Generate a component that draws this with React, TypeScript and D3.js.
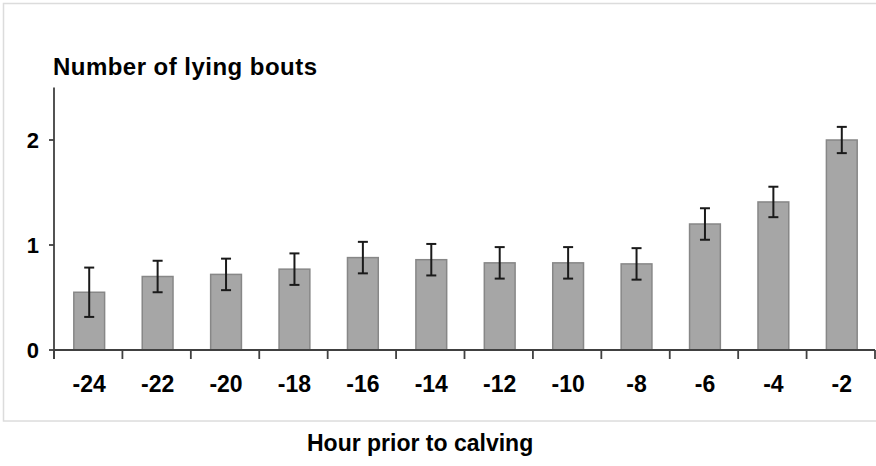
import React from 'react';
import * as d3 from 'd3';

const WIDTH = 876;
const HEIGHT = 466;

const hours = ['-24', '-22', '-20', '-18', '-16', '-14', '-12', '-10', '-8', '-6', '-4', '-2'];
const bouts = [0.55, 0.7, 0.72, 0.77, 0.88, 0.86, 0.83, 0.83, 0.82, 1.2, 1.41, 2.0];
const boutsErr = [0.235, 0.15, 0.15, 0.15, 0.15, 0.15, 0.15, 0.15, 0.15, 0.15, 0.145, 0.125];
const yTicks = [0, 1, 2];

const FONT = 'Arial, "Liberation Sans", sans-serif';

const App: React.FC = () => {
  const x = d3.scaleBand<string>().domain(hours).range([54, 875]).padding(0);
  const y = d3.scaleLinear().domain([0, 2.5]).range([350, 87.5]);
  const bw = x.bandwidth() * 0.45;
  const axisColor = '#404040';

  // tick positions at band edges
  const edges = hours.map((h) => x(h) as number).concat([x.range()[1]]);

  return (
    <svg
      width={WIDTH}
      height={HEIGHT}
      style={{ position: 'absolute', left: 0, top: 0, background: '#fff' }}
      fontFamily={FONT}
    >
      {/* light frame */}
      <rect x={3.5} y={3.5} width={WIDTH} height={417.5} fill="none" stroke="#dcdcdc" strokeWidth={1.5} />

      <text x={53} y={75} fontSize={24} fontWeight="bold" fill="#000" textLength={264} lengthAdjust="spacing">
        Number of lying bouts
      </text>

      {/* bars */}
      {hours.map((h, i) => {
        const cx = (x(h) as number) + x.bandwidth() / 2 + 1;
        return (
          <g key={h}>
            <rect
              x={cx - bw / 2}
              y={y(bouts[i])}
              width={bw}
              height={y(0) - y(bouts[i])}
              fill="#a6a6a6"
              stroke="#878787"
              strokeWidth={1.5}
            />
            <g stroke="#1a1a1a" strokeWidth={2}>
              <line x1={cx} x2={cx} y1={y(bouts[i] + boutsErr[i])} y2={y(bouts[i] - boutsErr[i])} />
              <line x1={cx - 5} x2={cx + 5} y1={y(bouts[i] + boutsErr[i])} y2={y(bouts[i] + boutsErr[i])} />
              <line x1={cx - 5} x2={cx + 5} y1={y(bouts[i] - boutsErr[i])} y2={y(bouts[i] - boutsErr[i])} />
            </g>
          </g>
        );
      })}

      {/* y axis */}
      <line x1={54} x2={54} y1={y.range()[1]} y2={359} stroke={axisColor} strokeWidth={1.8} />
      {yTicks.map((t) => (
        <g key={t}>
          <line x1={49} x2={54} y1={y(t)} y2={y(t)} stroke={axisColor} strokeWidth={1.8} />
          <text x={39} y={y(t)} dy="0.36em" textAnchor="end" fontSize={22} fontWeight="bold">
            {t}
          </text>
        </g>
      ))}

      {/* x axis */}
      <line x1={54} x2={875} y1={y(0)} y2={y(0)} stroke={axisColor} strokeWidth={1.8} />
      {edges.map((e, i) => (
        <line key={i} x1={e} x2={e} y1={y(0)} y2={359} stroke={axisColor} strokeWidth={1.8} />
      ))}
      {hours.map((h) => (
        <text
          key={h}
          x={(x(h) as number) + x.bandwidth() / 2 + 1}
          y={392}
          textAnchor="middle"
          fontSize={23}
          fontWeight="bold"
        >
          {h}
        </text>
      ))}

      <text x={307} y={451} fontSize={23} fontWeight="bold">
        Hour prior to calving
      </text>
    </svg>
  );
};

export default App;
